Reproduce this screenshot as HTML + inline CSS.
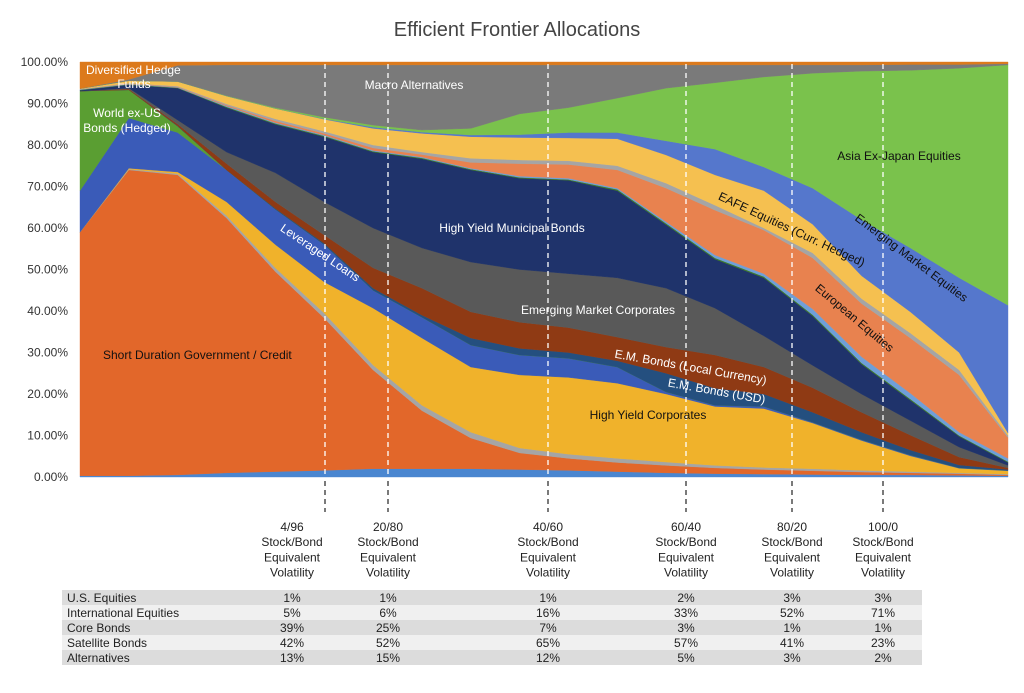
<!DOCTYPE html>
<html><head><meta charset="utf-8"><style>
body{margin:0;background:#fff;width:1024px;height:688px;overflow:hidden;font-family:"Liberation Sans",sans-serif}
svg text{font-family:"Liberation Sans",sans-serif}
</style></head><body>
<svg id="chart" width="1024" height="688" viewBox="0 0 1024 688" xmlns="http://www.w3.org/2000/svg">
<text x="517" y="36" text-anchor="middle" font-size="20" fill="#444">Efficient Frontier Allocations</text>
<g id="yaxis"></g>
<g id="areas"></g>
<g id="guides"></g>
<g id="labels"></g>
<g id="table"></g>
</svg>
<script>
// 20 evenly spaced frontier points; cumulative stacked tops (%) per asset class
const points = [0,1,2,3,4,5,6,7,8,9,10,11,12,13,14,15,16,17,18,19];
const usEquitiesCum   = [0.3,0.3,0.5,1,1.3,1.6,2,2,2,1.8,1.6,1.3,1,0.8,0.7,0.6,0.5,0.5,0.4,0.3];
const shortDurCum     = [59,74,72.8,62.4,49.5,38.3,25.8,16,9.4,5.8,4.5,3.5,2.8,2.2,1.8,1.5,1.2,1,0.8,0.5];
const coreGrayCum     = [59,74.2,73.1,63,50.4,39.5,27,17.3,10.8,7,5.5,4.5,3.6,2.8,2.3,2,1.6,1.3,1,0.7];
const hyCorpCum       = [59,74.4,73.5,66.3,56,47,40.7,33.5,26.5,24.6,24,22.6,20,17,16.5,13,8.8,5.1,2.1,1.5];
const levLoansCum     = [69,86.5,83,74,64.5,56,45,38.5,31.8,29.4,28.6,26.5,20.5,17.3,17,13.2,9,5.3,2.2,1.6];
const worldExUsCum    = [93,93.3,84.5,74,64.5,56,45,38.5,31.8,29.4,28.6,26.5,20.5,17.3,17,13.2,9,5.3,2.2,1.6];
const emUsdCum        = [93,93.3,84.6,74,64.7,56.3,45.5,39,33.5,31,30,28,25,21.4,20,15.6,10.8,6.5,2.9,1.8];
const emLocalCum      = [93,93.5,85,75.5,66.3,58.3,50.4,45.5,39.8,37.3,36,33.7,31.3,29.4,26.5,21.5,15.6,10.1,4.8,2.2];
const emCorpCum       = [93,93.7,86,78.3,73.3,66.3,60,55.2,51.8,50,49,48,45.5,40.7,34,26.9,20,13.6,7.2,2.8];
const hyMuniCum       = [93.2,94.5,93.7,89,85,82,78.3,76.7,74,72,71.5,69,60.8,52.5,48,38.8,27.2,18.5,9.8,3.5];
const greenThinCum    = [93.3,94.6,93.8,89.2,85.2,82.2,78.5,76.9,74.2,72.2,71.7,69.3,61.1,52.8,48.3,39.1,27.5,18.8,10,3.7];
const blueThinCum     = [93.4,94.7,93.9,89.4,85.4,82.4,78.7,77.1,74.4,72.5,72,69.6,61.5,53.5,49,40.5,29,20.2,10.8,4.5];
const europeanCum     = [93.4,94.8,94,89.6,85.8,82.8,79.3,77.7,75.8,75.5,75.3,74,69.6,64.3,59.5,52.8,41.8,33.5,24.6,9.5];
const grayThinCum     = [93.5,94.9,94.2,89.9,86.3,83.3,80,78.3,76.8,76.4,76.2,75,70.8,65.5,60,54,43,34.7,25.8,10];
const eafeCum         = [93.6,95.5,95.3,91.8,88.8,86.2,84,82.8,82,81.8,81.7,81.5,77.6,72.8,69,60.9,48.5,39.8,30,10.6];
const emEquitiesCum   = [93.6,95.5,95.3,91.8,88.8,86.3,84.3,83.1,82.4,82.5,83,83,81,79,74.7,69.6,62,55.2,48,41.4];
const asiaCum         = [93.6,95.5,95.3,91.9,89,86.7,84.8,83.6,84,87.5,89,91.3,93.7,95,96.4,97.3,97.8,98,98.5,99.3];
const macroCum        = [93.6,95.8,99.2,99.3,99.3,99.3,99.3,99.3,99.3,99.3,99.3,99.3,99.3,99.3,99.3,99.3,99.3,99.4,99.4,99.6];
const hedgeCum        = [100,100,100,100,100,100,100,100,100,100,100,100,100,100,100,100,100,100,100,100];
const yTicks = [0,10,20,30,40,50,60,70,80,90,100];
const guideLabels = ["4/96","20/80","40/60","60/40","80/20","100/0"];
const rowLabels = ["U.S. Equities","International Equities","Core Bonds","Satellite Bonds","Alternatives"];
const usEqRow = ["1%","1%","1%","2%","3%","3%"];
const intlRow = ["5%","6%","16%","33%","52%","71%"];
const coreRow = ["39%","25%","7%","3%","1%","1%"];
const satRow  = ["42%","52%","65%","57%","41%","23%"];
const altRow  = ["13%","15%","12%","5%","3%","2%"];

const NS="http://www.w3.org/2000/svg";
const X0=80,X1=1008,Y0=477,Y1=62;
const xs=i=>X0+(X1-X0)*i/(points.length-1);
const ys=v=>Y0-(Y0-Y1)*v/100;
function mk(tag,attrs,parent){const e=document.createElementNS(NS,tag);for(const k in attrs)e.setAttribute(k,attrs[k]);parent.appendChild(e);return e;}

const layers=[
 ["us-equities-area",usEquitiesCum,"#4a86d0"],["short-duration-area",shortDurCum,"#e2672a"],
 ["core-bonds-thin-area",coreGrayCum,"#a5a5a5"],["high-yield-corporates-area",hyCorpCum,"#f0b22b"],
 ["leveraged-loans-area",levLoansCum,"#3a5bb8"],["world-ex-us-bonds-area",worldExUsCum,"#5a9e32"],
 ["em-bonds-usd-area",emUsdCum,"#244f7f"],["em-bonds-local-area",emLocalCum,"#8f3a14"],
 ["em-corporates-area",emCorpCum,"#595959"],["hy-municipal-area",hyMuniCum,"#1f336b"],
 ["green-thin-area",greenThinCum,"#3d7a2a"],["blue-thin-area",blueThinCum,"#6f9fd8"],
 ["european-equities-area",europeanCum,"#e8824f"],["gray-thin-area",grayThinCum,"#a5a5a5"],
 ["eafe-equities-area",eafeCum,"#f5c050"],["em-equities-area",emEquitiesCum,"#5577cc"],
 ["asia-ex-japan-area",asiaCum,"#7ac24c"],["macro-alternatives-area",macroCum,"#7a7a7a"],
 ["hedge-funds-area",hedgeCum,"#dc7a1c"]];
const areas=document.getElementById('areas');
let prev=points.map(()=>0);
layers.forEach(([name,cum,color])=>{
  let d="M"+points.map((p,i)=>xs(i)+","+ys(cum[i])).join("L");
  for(let i=points.length-1;i>=0;i--)d+="L"+xs(i)+","+ys(prev[i]);
  const p=mk('path',{d:d+"Z",fill:color,stroke:color,'stroke-width':0.4},areas);
  
  
  prev=cum;
});
// left hedge fund wedge colour
const ya=document.getElementById('yaxis');
yTicks.forEach(t=>{
  const tx=mk('text',{x:68,y:ys(t)+4,'text-anchor':'end','font-size':12,fill:'#333'},ya);
  tx.textContent=t.toFixed(2)+"%";
  
  
});
const guideX=[325,388,548,686,792,883];
const labelX=[292,388,548,686,792,883];
const gd=document.getElementById('guides');
guideX.forEach((gx,i)=>{
  const l=mk('line',{x1:gx,x2:gx,y1:64,y2:477,stroke:'#fff','stroke-width':1.3,'stroke-dasharray':'5,4'},gd);
  
  
  const l2=mk('line',{x1:gx,x2:gx,y1:481,y2:512,stroke:'#222','stroke-width':1.2,'stroke-dasharray':'5,4'},gd);
  
  
  [guideLabels[i],"Stock/Bond","Equivalent","Volatility"].forEach((s,k)=>{
    const t=mk('text',{x:labelX[i],y:531+k*15.2,'text-anchor':'middle','font-size':12,fill:'#222'},gd);
    t.textContent=s;
    
    
  });
});
const lb=document.getElementById('labels');
function lab(txt,x,y,col,rot,anchor){
  const t=mk('text',{x:x,y:y,'text-anchor':anchor||'middle','font-size':12,fill:col,transform:rot?`rotate(${rot} ${x} ${y})`:''},lb);
  t.textContent=txt;
  
  
}
lab("Diversified Hedge",86,74,"#fff",0,"start");
lab("Funds",134,88,"#fff");
lab("Macro Alternatives",414,89,"#fff");
lab("World ex-US",127,117,"#fff");
lab("Bonds (Hedged)",127,132,"#fff");
lab("Short Duration Government / Credit",103,359,"#111",0,"start");
lab("Leveraged Loans",318,256,"#fff",34);
lab("High Yield Municipal Bonds",512,232,"#fff");
lab("Emerging Market Corporates",598,314,"#fff");
lab("E.M. Bonds (Local Currency)",690,371,"#fff",10);
lab("E.M. Bonds (USD)",716,395,"#fff",10);
lab("High Yield Corporates",648,419,"#111");
lab("Asia Ex-Japan Equities",899,160,"#111");
lab("EAFE Equities (Curr. Hedged)",790,233,"#111",25);
lab("Emerging Market Equities",909,261,"#111",37);
lab("European Equities",852,321,"#111",40);

const tb=document.getElementById('table');
const rows=[usEqRow,intlRow,coreRow,satRow,altRow];
rows.forEach((r,ri)=>{
  const y=590+ri*15;
  const rc=mk('rect',{x:62,y:y,width:860,height:15,fill:ri%2?'#f0f0f0':'#dcdcdc'},tb);
  
  
  const t=mk('text',{x:67,y:y+12,'font-size':12,fill:'#222'},tb);
  t.textContent=rowLabels[ri];
  
  
  r.forEach((v,ci)=>{
    const c=mk('text',{x:labelX[ci],y:y+12,'text-anchor':'middle','font-size':12,fill:'#222'},tb);
    c.textContent=v;
    
    
  });
});
</script>
</body></html>
